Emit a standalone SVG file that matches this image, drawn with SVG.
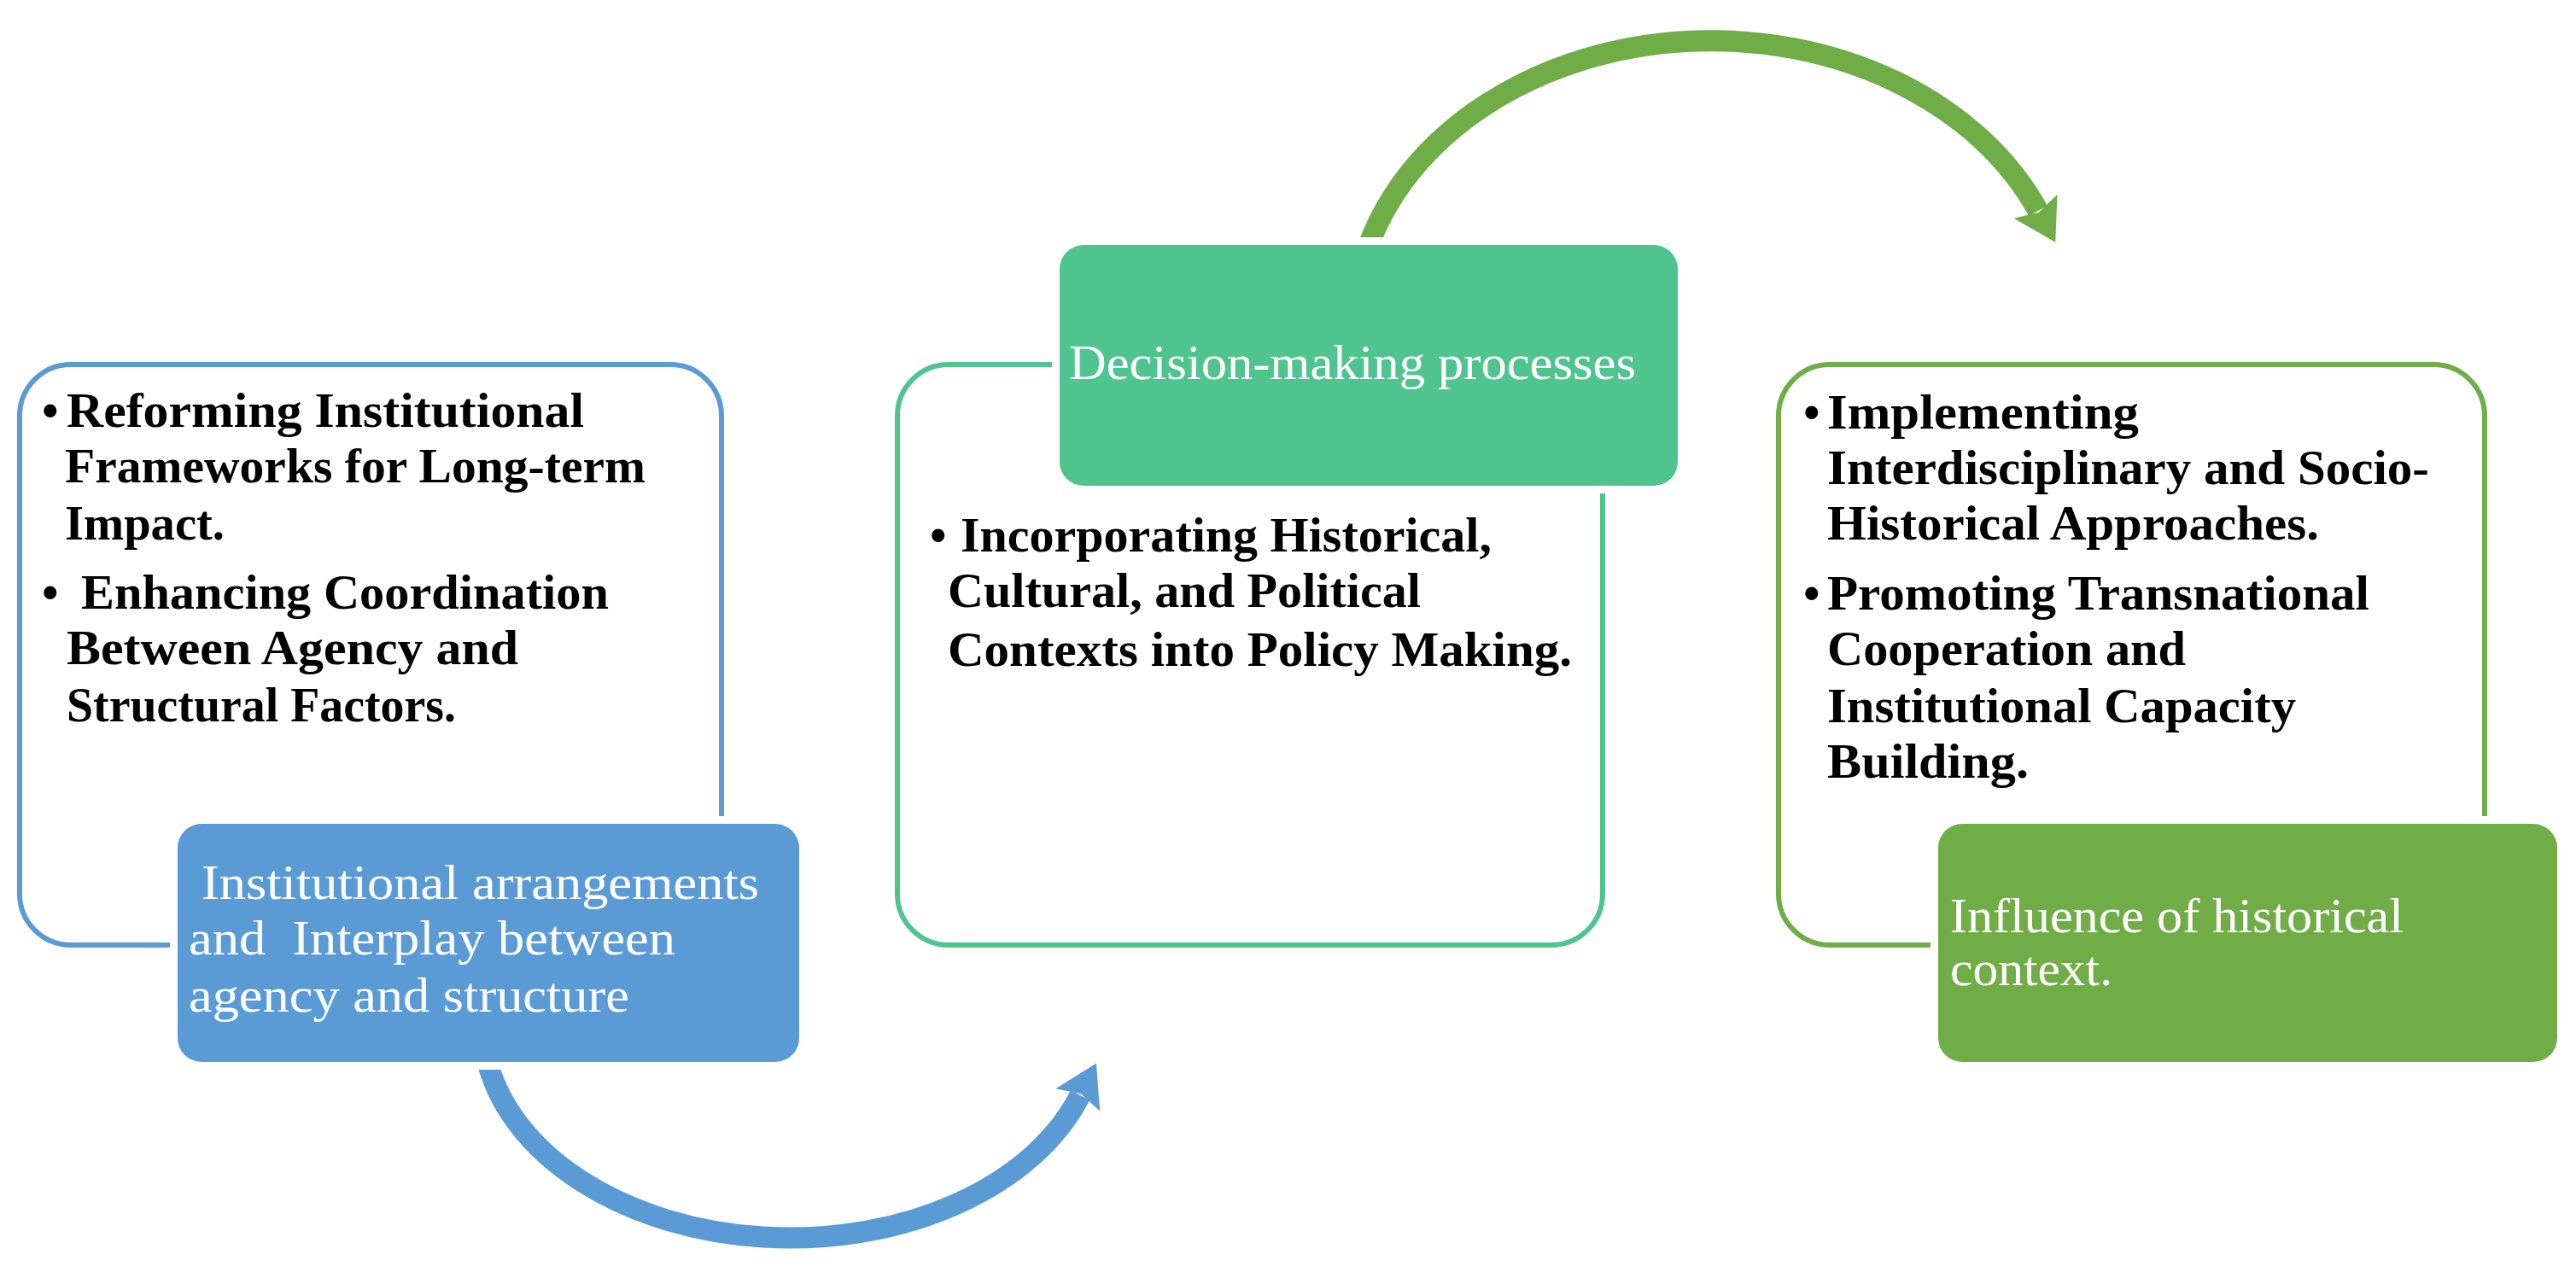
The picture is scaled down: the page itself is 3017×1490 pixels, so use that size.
<svg xmlns="http://www.w3.org/2000/svg" width="3017" height="1490" viewBox="0 0 3017 1490">
<style>
.bg{fill:#ffffff}
.outline{fill:#ffffff;stroke-width:6}
.fill{stroke:#ffffff;stroke-width:18;paint-order:stroke}
.blue-o{stroke:#5B9BD5}
.teal-o{stroke:#50C48E}
.green-o{stroke:#70AD47}
.blue-f{fill:#5B9BD5}
.teal-f{fill:#50C48E}
.green-f{fill:#70AD47}
.b{font-family:"Liberation Serif","Times New Roman",serif;font-weight:bold;font-size:56px;fill:#000000}
.w{font-family:"Liberation Serif","Times New Roman",serif;font-size:56px;fill:#ffffff}
.arrow{fill:none;stroke-width:25}
</style>
<defs>
<marker id="headBlue" markerUnits="userSpaceOnUse" viewBox="-10 -35 60 70" markerWidth="60" markerHeight="70" refX="0" refY="0" orient="auto" overflow="visible">
<path d="M-6,-29 L42,0 L-6,29 L2,0 Z" fill="#5B9BD5"/>
</marker>
<marker id="headGreen" markerUnits="userSpaceOnUse" viewBox="-10 -35 60 70" markerWidth="60" markerHeight="70" refX="0" refY="0" orient="auto" overflow="visible">
<path d="M-6,-29 L42,0 L-6,29 L2,0 Z" fill="#70AD47"/>
</marker>
</defs>
<rect class="bg" x="0" y="0" width="3017" height="1490"/>
<g id="connectors">
<path class="arrow" stroke="#5B9BD5" d="M 570 1240 A 360 250 0 0 0 1265 1283" marker-end="url(#headBlue)"/>
<path class="arrow" stroke="#70AD47" d="M 1602 290 A 418 333 0 0 1 2387 247" marker-end="url(#headGreen)"/>
</g>
<g id="node-institutional">
<rect class="outline blue-o" x="23" y="427" width="822" height="680" rx="60" ry="60"/>
<rect class="fill blue-f" x="208" y="965" width="728" height="279" rx="28" ry="28"/>
<text class="b" x="49" y="500">•</text>
<text class="b" x="78" y="500" textLength="606" lengthAdjust="spacingAndGlyphs">Reforming Institutional</text>
<text class="b" x="76" y="565" textLength="680" lengthAdjust="spacingAndGlyphs">Frameworks for Long-term</text>
<text class="b" x="76" y="632" textLength="187" lengthAdjust="spacingAndGlyphs">Impact.</text>
<text class="b" x="49" y="713">•</text>
<text class="b" x="95" y="713" textLength="618" lengthAdjust="spacingAndGlyphs">Enhancing Coordination</text>
<text class="b" x="78" y="778" textLength="529" lengthAdjust="spacingAndGlyphs">Between Agency and</text>
<text class="b" x="78" y="845" textLength="456" lengthAdjust="spacingAndGlyphs">Structural Factors.</text>
<text class="w" x="236" y="1053" textLength="653" lengthAdjust="spacingAndGlyphs">Institutional arrangements</text>
<text class="w" x="221" y="1118" textLength="570" lengthAdjust="spacingAndGlyphs">and&#160; Interplay between</text>
<text class="w" x="221" y="1185" textLength="516" lengthAdjust="spacingAndGlyphs">agency and structure</text>
</g>
<g id="node-decision">
<rect class="outline teal-o" x="1051" y="427" width="826" height="680" rx="60" ry="60"/>
<rect class="fill teal-f" x="1241" y="287" width="724" height="282" rx="28" ry="28"/>
<text class="w" x="1252" y="444" textLength="664" lengthAdjust="spacingAndGlyphs">Decision-making processes</text>
<text class="b" x="1089" y="646">•</text>
<text class="b" x="1125" y="646" textLength="622" lengthAdjust="spacingAndGlyphs">Incorporating Historical,</text>
<text class="b" x="1110" y="711" textLength="554" lengthAdjust="spacingAndGlyphs">Cultural, and Political</text>
<text class="b" x="1110" y="780" textLength="731" lengthAdjust="spacingAndGlyphs">Contexts into Policy Making.</text>
</g>
<g id="node-historical">
<rect class="outline green-o" x="2083" y="427" width="827" height="680" rx="60" ry="60"/>
<rect class="fill green-f" x="2270" y="965" width="725" height="279" rx="28" ry="28"/>
<text class="b" x="2112" y="502">•</text>
<text class="b" x="2140" y="502" textLength="365" lengthAdjust="spacingAndGlyphs">Implementing</text>
<text class="b" x="2140" y="567" textLength="705" lengthAdjust="spacingAndGlyphs">Interdisciplinary and Socio-</text>
<text class="b" x="2140" y="632" textLength="576" lengthAdjust="spacingAndGlyphs">Historical Approaches.</text>
<text class="b" x="2112" y="714">•</text>
<text class="b" x="2140" y="714" textLength="635" lengthAdjust="spacingAndGlyphs">Promoting Transnational</text>
<text class="b" x="2140" y="779" textLength="420" lengthAdjust="spacingAndGlyphs">Cooperation and</text>
<text class="b" x="2140" y="846" textLength="549" lengthAdjust="spacingAndGlyphs">Institutional Capacity</text>
<text class="b" x="2140" y="911" textLength="236" lengthAdjust="spacingAndGlyphs">Building.</text>
<text class="w" x="2284" y="1092" textLength="531" lengthAdjust="spacingAndGlyphs">Influence of historical</text>
<text class="w" x="2284" y="1154" textLength="190" lengthAdjust="spacingAndGlyphs">context.</text>
</g>
</svg>
